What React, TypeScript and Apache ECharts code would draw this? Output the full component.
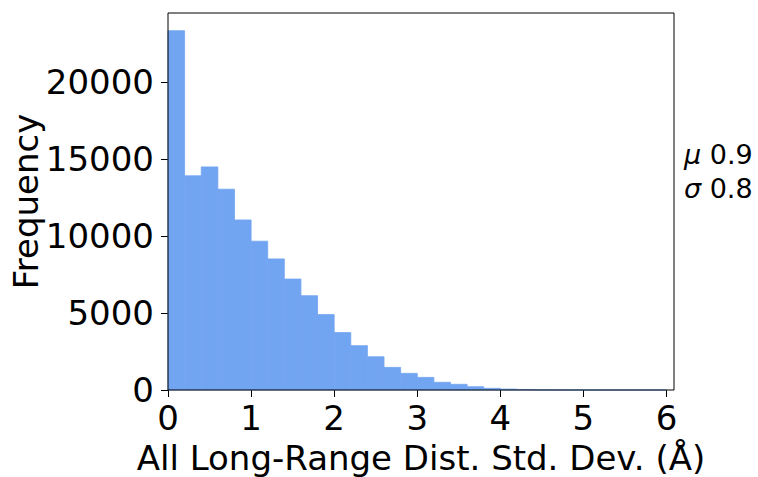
import React, { useEffect, useRef } from "react";
import * as echarts from "echarts";

const binStart = 0;
const binWidth = 0.2;
const counts = [
  23350, 13920, 14500, 13050, 11050, 9670, 8520, 7210, 6130, 4900,
  3730, 2880, 2160, 1470, 1080, 820, 500, 370, 215, 110,
  60, 35, 15, 8, 5, 3, 2, 1, 1, 1,
];
const xTitle = "All Long-Range Dist. Std. Dev. (Å)";
const yTitle = "Frequency";
const statMu = "0.9";
const statSigma = "0.8";

export default function App() {
  const ref = useRef<HTMLDivElement>(null);
  useEffect(() => {
    if (!ref.current) return;
    const chart = echarts.init(ref.current, null, { renderer: "svg" });
    const data = counts.map((c, i) => [
      binStart + i * binWidth,
      binStart + (i + 1) * binWidth,
      c,
    ]);
    const font = "DejaVu Sans";
    chart.setOption({
      animation: false,
      backgroundColor: "#fff",
      grid: {
        left: 168,
        right: 84,
        top: 13,
        bottom: 87,
        containLabel: false,
        outerBoundsMode: "none",
        show: true,
        borderColor: "#000",
        borderWidth: 1,
        backgroundColor: "transparent",
        z: 10,
      },
      xAxis: {
        type: "value",
        min: 0,
        max: 6.09,
        interval: 1,
        name: xTitle,
        nameLocation: "middle",
        nameGap: 51,
        nameMoveOverlap: false,
        nameTextStyle: { fontFamily: font, fontSize: 34, color: "#000" },
        axisLine: { show: false },
        axisTick: { show: true, length: 7, lineStyle: { color: "#000" } },
        splitLine: { show: false },
        axisLabel: {
          fontFamily: font,
          fontSize: 34,
          color: "#000",
          margin: 11,
          showMaxLabel: false,
          formatter: (v: number) => (Math.abs(v - Math.round(v)) < 1e-9 ? String(Math.round(v)) : ""),
        },
      },
      yAxis: {
        type: "value",
        min: 0,
        max: 24500,
        interval: 5000,
        name: yTitle,
        nameLocation: "middle",
        nameGap: 125,
        nameMoveOverlap: false,
        nameTextStyle: { fontFamily: font, fontSize: 34, color: "#000" },
        axisLine: { show: false },
        axisTick: { show: true, length: 7, lineStyle: { color: "#000" } },
        splitLine: { show: false },
        axisLabel: {
          fontFamily: font,
          fontSize: 34,
          color: "#000",
          margin: 14,
          showMaxLabel: false,
          formatter: (v: number) => (v % 5000 === 0 ? String(v) : ""),
        },
      },
      graphic: [
        {
          type: "text",
          left: 684,
          top: 141,
          style: {
            text: "{i|μ} " + statMu,
            font: `27px ${font}`,
            fill: "#000",
            rich: { i: { fontFamily: font, fontSize: 27, fontStyle: "italic" } },
          },
        },
        {
          type: "text",
          left: 684,
          top: 175,
          style: {
            text: "{i|σ} " + statSigma,
            font: `27px ${font}`,
            fill: "#000",
            rich: { i: { fontFamily: font, fontSize: 27, fontStyle: "italic" } },
          },
        },
      ],
      series: [
        {
          type: "custom",
          data,
          encode: { x: [0, 1], y: 2 },
          renderItem: (params: any, api: any) => {
            const p0 = api.coord([api.value(0), api.value(2)]);
            const p1 = api.coord([api.value(1), 0]);
            return {
              type: "rect",
              shape: { x: p0[0], y: p0[1], width: p1[0] - p0[0], height: p1[1] - p0[1] },
              style: { fill: "#72a5f1", stroke: "#72a5f1", lineWidth: 0.8 },
            };
          },
        },
      ],
    });
    return () => chart.dispose();
  }, []);
  return (
    <div
      ref={ref}
      style={{ position: "absolute", left: 0, top: 0, width: 758, height: 477 }}
    />
  );
}
